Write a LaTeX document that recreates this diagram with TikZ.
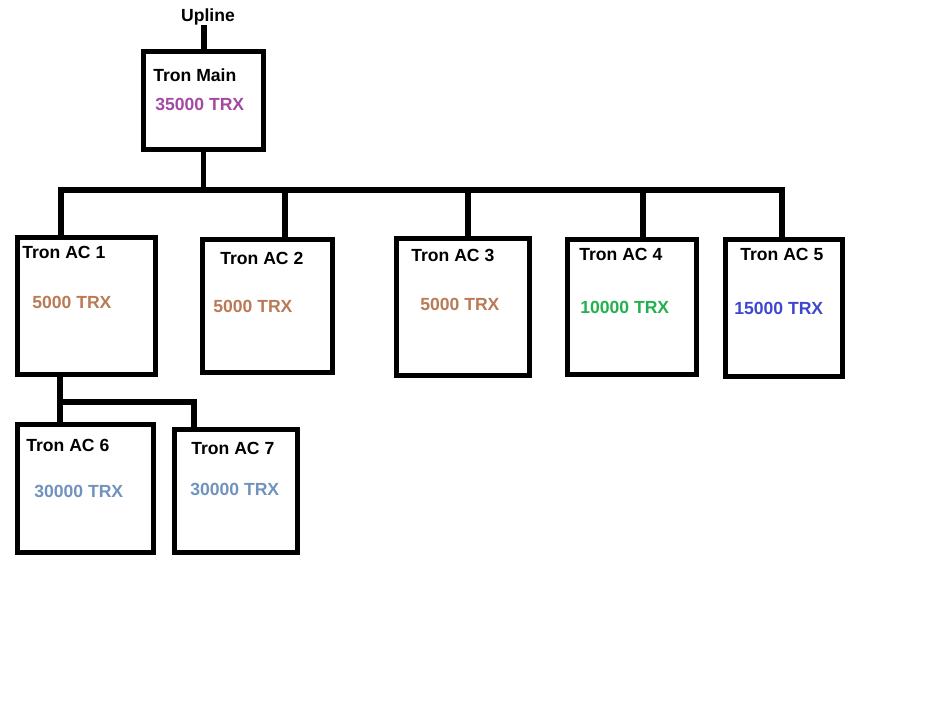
\documentclass[tikz,border=0pt]{standalone}
\usepackage{fontspec}
\setmainfont{Liberation Sans}
\usepackage{xcolor}
\definecolor{ColBrown}{RGB}{185,122,87}
\definecolor{ColPurple}{RGB}{163,73,164}
\definecolor{ColGreen}{RGB}{34,177,76}
\definecolor{ColIndigo}{RGB}{63,72,204}
\definecolor{ColSteel}{RGB}{112,146,190}
\tikzstyle{BoxAC}=[draw,line width=2.9pt,inner sep=0pt]
\tikzstyle{NameAC}=[anchor=west,inner sep=0pt,font=\bfseries\fontsize{10}{12}\selectfont]
\tikzstyle{EdgeAC}=[line width=2.9pt]
\begin{document}
\begin{tikzpicture}[x=0.02cm,y=-0.02cm]
        \useasboundingbox (0,0) rectangle (948,704);
        % boxes
        \node[BoxAC,minimum width=2.40cm,minimum height=1.96cm](main)at(203.5,100.5){};
        \node[BoxAC,minimum width=2.76cm,minimum height=2.74cm](ac1)at(86.5,306){};
        \node[BoxAC,minimum width=2.60cm,minimum height=2.66cm](ac2)at(267.5,306){};
        \node[BoxAC,minimum width=2.66cm,minimum height=2.74cm](ac3)at(463,307){};
        \node[BoxAC,minimum width=2.58cm,minimum height=2.70cm](ac4)at(632,307){};
        \node[BoxAC,minimum width=2.34cm,minimum height=2.74cm](ac5)at(784,308){};
        \node[BoxAC,minimum width=2.72cm,minimum height=2.56cm](ac6)at(85.5,488.5){};
        \node[BoxAC,minimum width=2.46cm,minimum height=2.46cm](ac7)at(236,491){};
        % texts
        \node[NameAC,anchor=center](up)at(208,17){Upline};
        \node[NameAC](t0)at(153,75){Tron Main};
        \node[NameAC,ColPurple](s0)at(155,104){35000 TRX};
        \node[NameAC](t1)at(22,252){Tron AC 1};
        \node[NameAC,ColBrown](s1)at(32,302){5000 TRX};
        \node[NameAC](t2)at(220,258){Tron AC 2};
        \node[NameAC,ColBrown](s2)at(213,306){5000 TRX};
        \node[NameAC](t3)at(411,255){Tron AC 3};
        \node[NameAC,ColBrown](s3)at(420,304){5000 TRX};
        \node[NameAC](t4)at(579,254){Tron AC 4};
        \node[NameAC,ColGreen](s4)at(580,307){10000 TRX};
        \node[NameAC](t5)at(740,254){Tron AC 5};
        \node[NameAC,ColIndigo](s5)at(734,308){15000 TRX};
        \node[NameAC](t6)at(26,445){Tron AC 6};
        \node[NameAC,ColSteel](s6)at(34,491){30000 TRX};
        \node[NameAC](t7)at(191,448){Tron AC 7};
        \node[NameAC,ColSteel](s7)at(190,489){30000 TRX};
        % connectors
        \coordinate(u)at(204,25);
        \coordinate(j1)at(61,190);
        \coordinate(j2)at(285,190);
        \coordinate(j3)at(468,190);
        \coordinate(j4)at(643,190);
        \coordinate(j5)at(782,190);
        \coordinate(k1)at(60,402);
        \coordinate(k2)at(194,402);
        \draw[EdgeAC](u)--(u|-main.north);
        \draw[EdgeAC](main.south)--(main.south|-j1);
        \draw[EdgeAC](ac1.north-|j1)--(j1)--(j5)--(j5|-ac5.north);
        \draw[EdgeAC](j2)--(j2|-ac2.north);
        \draw[EdgeAC](j3)--(j3|-ac3.north);
        \draw[EdgeAC](j4)--(j4|-ac4.north);
        \draw[EdgeAC](ac1.south-|k1)--(ac6.north-|k1);
        \draw[EdgeAC](k1)--(k2)--(k2|-ac7.north);
    \end{tikzpicture}
\end{document}
